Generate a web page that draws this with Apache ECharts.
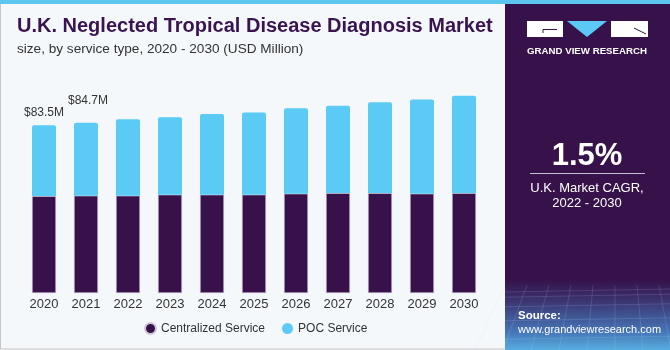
<!DOCTYPE html>
<html>
<head>
<meta charset="utf-8">
<script src="https://cdn.jsdelivr.net/npm/echarts@6/dist/echarts.min.js"></script>
<style>
  html, body { margin: 0; padding: 0; background: #f4f8fb; }
  #chart-container { width: 670px; height: 350px; }
</style>
</head>
<body>
<div id="chart-container"></div>
<script>
const years = ['2020', '2021', '2022', '2023', '2024', '2025', '2026', '2027', '2028', '2029', '2030'];
const centralized = [48.2, 48.4, 48.4, 48.9, 48.9, 48.9, 49.4, 49.7, 49.7, 49.4, 49.7];
const poc = [35.3, 36.3, 38.1, 38.6, 40.2, 40.9, 42.5, 43.4, 45.2, 46.9, 48.4];
const totalLabels = ['$83.5M', '$84.7M'];

const dom = document.getElementById('chart-container');
const myChart = echarts.init(dom, null, { renderer: 'canvas' });

const DARK = '#38114a';
const BLUE = '#5bcaf5';

// only the first two bars carry a total label
const pocData = poc.map((v, i) => {
  if (i >= totalLabels.length) return v;
  return {
    value: v,
    label: {
      show: true,
      position: 'top',
      distance: i === 0 ? 6 : 16,
      offset: [i === 0 ? 0 : 2, 0],
      formatter: totalLabels[i],
      color: '#333',
      fontSize: 12,
      fontFamily: 'Liberation Sans',
    },
  };
});

// faint grid pattern in the footer of the side panel
const meshLines = [];
for (let k = 0; k < 9; k++) {
  const x = 505 + k * 22;
  meshLines.push({
    type: 'line',
    shape: { x1: x, y1: 285, x2: x - 30 + k * 6, y2: 350 },
    style: { stroke: 'rgba(200,220,255,0.15)', lineWidth: 1 },
  });
}
for (let k = 0; k < 6; k++) {
  const y = 292 + k * k * 2.2 + k * 3;
  meshLines.push({
    type: 'line',
    shape: { x1: 505, y1: y, x2: 670, y2: y - 3 },
    style: { stroke: 'rgba(200,220,255,0.15)', lineWidth: 1 },
  });
}

const option = {
  backgroundColor: '#f4f8fb',
  animation: false,
  grid: { left: 23, right: 185, top: 92, height: 201 },
  xAxis: {
    type: 'category',
    data: years,
    axisLine: { show: false },
    axisTick: { show: false },
    axisLabel: { color: '#333', fontSize: 13, margin: 5, fontFamily: 'Liberation Sans' },
  },
  yAxis: { type: 'value', min: 0, max: 100, show: false },
  legend: {
    data: ['Centralized Service', 'POC Service'],
    bottom: 10,
    left: 139,
    icon: 'circle',
    itemWidth: 11,
    itemHeight: 11,
    itemGap: 17,
    textStyle: { color: '#333', fontSize: 12, fontFamily: 'Liberation Sans' },
  },
  series: [
    {
      name: 'Centralized Service',
      type: 'bar',
      stack: 'total',
      barWidth: 24,
      itemStyle: { color: DARK, borderColor: '#cdc6d8', borderWidth: 0.6 },
      data: centralized,
    },
    {
      name: 'POC Service',
      type: 'bar',
      stack: 'total',
      barWidth: 24,
      itemStyle: { color: BLUE, borderRadius: [2, 2, 0, 0] },
      data: pocData,
    },
  ],
  graphic: [
    // left panel border
    { type: 'rect', z: -10, shape: { x: 0.5, y: 0, width: 505, height: 349 }, style: { fill: '#f4f8fb', stroke: '#c6c6c6', lineWidth: 1 } },
    // top stripe
    { type: 'rect', shape: { x: 0, y: 0, width: 670, height: 4 }, style: { fill: '#5cc6ee' } },
    // titles
    { type: 'text', left: 17, top: 16, style: { text: 'U.K. Neglected Tropical Disease Diagnosis Market', fill: '#3a1450', font: 'bold 20px "Liberation Sans"' } },
    { type: 'text', left: 17, top: 42, style: { text: 'size, by service type, 2020 - 2030 (USD Million)', fill: '#333', font: '13.6px "Liberation Sans"' } },
    // side panel
    { type: 'rect', shape: { x: 505, y: 4, width: 165, height: 346 }, style: { fill: '#37124a' } },
    {
      type: 'rect',
      shape: { x: 505, y: 280, width: 165, height: 70 },
      style: {
        fill: new echarts.graphic.LinearGradient(0, 0, 0, 1, [
          { offset: 0, color: '#37124a' },
          { offset: 0.3, color: '#3b3571' },
          { offset: 0.75, color: '#4677b8' },
          { offset: 1, color: '#56aee0' },
        ]),
      },
    },
    { type: 'group', children: meshLines },
    // logo
    { type: 'rect', shape: { x: 527, y: 21, width: 36, height: 16 }, style: { fill: '#fff' } },
    { type: 'line', shape: { x1: 543, y1: 29.5, x2: 557, y2: 29.5 }, style: { stroke: '#37124a', lineWidth: 1 } },
    { type: 'line', shape: { x1: 543, y1: 29.5, x2: 543, y2: 33 }, style: { stroke: '#37124a', lineWidth: 1 } },
    { type: 'polygon', shape: { points: [[567, 21], [607, 21], [587, 37]] }, style: { fill: '#5bc8f5' } },
    { type: 'rect', shape: { x: 611, y: 21, width: 37, height: 16 }, style: { fill: '#fff' } },
    { type: 'line', shape: { x1: 634, y1: 28, x2: 646, y2: 34 }, style: { stroke: '#37124a', lineWidth: 1 } },
    { type: 'text', left: 527, top: 46, style: { text: 'GRAND VIEW RESEARCH', fill: '#fff', font: 'bold 9.7px "Liberation Sans"' } },
    // CAGR
    { type: 'text', x: 587, y: 156, style: { text: '1.5%', fill: '#fff', font: 'bold 31px "Liberation Sans"', align: 'center', verticalAlign: 'middle' } },
    { type: 'line', shape: { x1: 530, y1: 173.5, x2: 645, y2: 173.5 }, style: { stroke: '#c9bfd4', lineWidth: 1 } },
    { type: 'text', x: 587, y: 188, style: { text: 'U.K. Market CAGR,', fill: '#fff', font: '13px "Liberation Sans"', align: 'center', verticalAlign: 'middle' } },
    { type: 'text', x: 587, y: 203, style: { text: '2022 - 2030', fill: '#fff', font: '13px "Liberation Sans"', align: 'center', verticalAlign: 'middle' } },
    // source
    { type: 'text', left: 518, top: 310, style: { text: 'Source:', fill: '#fff', font: 'bold 11.5px "Liberation Sans"' } },
    { type: 'text', left: 518, top: 324, style: { text: 'www.grandviewresearch.com', fill: '#fff', font: '11px "Liberation Sans"' } },
  ],
};

myChart.setOption(option);
window.addEventListener('resize', myChart.resize);
</script>
</body>
</html>
